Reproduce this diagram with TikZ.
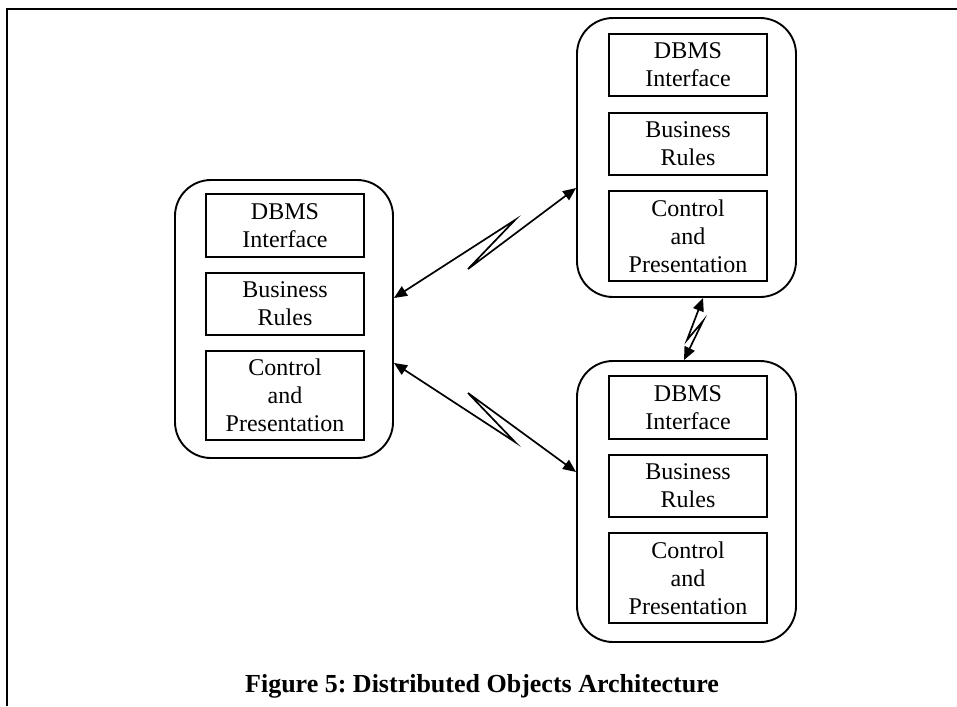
\documentclass[tikz,border=0pt]{standalone}
\usepackage{fontspec}
\setmainfont{Liberation Serif}
\usetikzlibrary{arrows.meta}
\frenchspacing
\begin{document}
\begin{tikzpicture}[x=1pt,y=-1pt,
  outerbox/.style={draw, line width=1.9pt, rounded corners=36pt, inner sep=0pt},
  layerbox/.style={draw, line width=1.8pt, minimum width=158pt, inner sep=0pt, align=center,
    font=\fontsize{24}{28}\selectfont},
  conn/.style={line width=1.7pt, {Triangle[length=13pt,width=11pt]}-{Triangle[length=13pt,width=11pt]}},
  caption/.style={font=\fontsize{26}{30}\selectfont\bfseries, anchor=base, inner sep=0pt}]
\useasboundingbox (0,0) rectangle (957,706);
\draw[line width=2.2pt] (7,706) -- (7,9) -- (957,9);

% left object
\node[outerbox, minimum width=218pt, minimum height=278pt] (L) at (284,319) {};
\node[layerbox, minimum height=63pt] (L1) at (285,225.5) {DBMS\\Interface};
\node[layerbox, minimum height=62pt] (L2) at (285,304) {Business\\Rules};
\node[layerbox, minimum height=89pt] (L3) at (285,395.5) {Control\\and\\Presentation};

% top right object
\node[outerbox, minimum width=219pt, minimum height=279pt] (T) at (686.5,157.5) {};
\node[layerbox, minimum height=62pt] (T1) at (688,65) {DBMS\\Interface};
\node[layerbox, minimum height=62pt] (T2) at (688,144) {Business\\Rules};
\node[layerbox, minimum height=90pt] (T3) at (688,236) {Control\\and\\Presentation};

% bottom right object
\node[outerbox, minimum width=219pt, minimum height=281pt] (B) at (686.5,501.5) {};
\node[layerbox, minimum height=63pt] (B1) at (688,407.5) {DBMS\\Interface};
\node[layerbox, minimum height=62pt] (B2) at (688,486) {Business\\Rules};
\node[layerbox, minimum height=90pt] (B3) at (688,578) {Control\\and\\Presentation};

% zigzag corner points
\coordinate (ta) at (515,220);
\coordinate (tb) at (468,269);
\coordinate (ba) at (515,442);
\coordinate (bb) at (468,393);
\coordinate (va) at (687,340);
\coordinate (vb) at (703,321);

\draw[conn] ([yshift=21pt]L.east) -- (ta) -- (tb) -- ([yshift=-30.5pt]T.west);
\draw[conn] ([yshift=-44pt]L.east) -- (ba) -- (bb) -- ([yshift=29.5pt]B.west);
\draw[conn] ([xshift=16.5pt]T.south) -- (va) -- (vb) -- ([xshift=-2.5pt]B.north);

\node[caption] (cap) at (482,692) {Figure 5: Distributed Objects Architecture};
\end{tikzpicture}
\end{document}
